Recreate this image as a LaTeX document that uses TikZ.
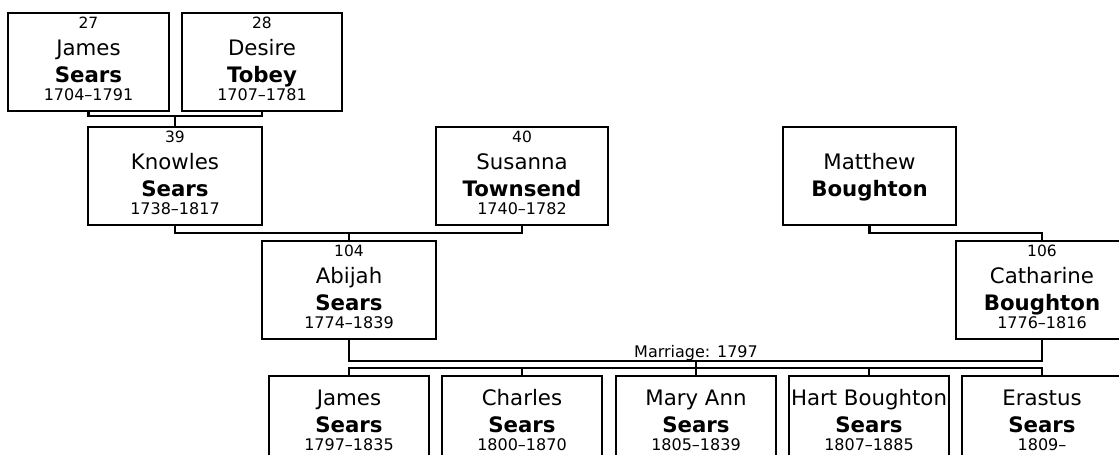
\documentclass[tikz,border=0pt]{standalone}
\usepackage{fontspec}
\setmainfont{DejaVu Sans}
\tikzset{
  pbox/.style={draw, line width=2.3pt, minimum height=98pt, inner sep=0pt},
  conn/.style={line width=2.3pt},
  numtxt/.style={anchor=base, inner sep=0pt, font=\fontsize{15.5}{17}\selectfont},
  firsttxt/.style={anchor=base, inner sep=0pt, font=\fontsize{21.3}{24}\selectfont},
  lasttxt/.style={anchor=base, inner sep=0pt, font=\fontsize{21.3}{24}\selectfont\bfseries},
  datetxt/.style={anchor=base, inner sep=0pt, font=\fontsize{16}{18}\selectfont},
}
% #1 name, #2 cx, #3 top, #4 width, #5 number, #6 first, #7 last, #8 dates
\newcommand\person[8]{%
  \node[pbox, minimum width=#4] (#1) at (#2,#3+49) {};
  \node[numtxt] (#1n) at (#2,#3+15.5) {#5};
  \node[firsttxt] (#1f) at (#2,#3+42) {#6};
  \node[lasttxt] (#1l) at (#2,#3+69) {#7};
  \node[datetxt] (#1d) at (#2,#3+87.5) {#8};
}
\newcommand\kid[6]{%
  \node[pbox, minimum width=#4] (#1) at (#2,#3+49) {};
  \node[firsttxt] (#1f) at (#2,#3+29) {#5};
  \node[lasttxt] (#1l) at (#2,#3+56) {Sears};
  \node[datetxt] (#1d) at (#2,#3+74.5) {#6};
}
\begin{document}
\begin{tikzpicture}[x=1pt, y=-1pt]
\useasboundingbox (0,0) rectangle (1119,455);
\clip (0,0) rectangle (1119,455);
% generation 1
\person{p27}{88.5}{13}{161pt}{27}{James}{Sears}{1704–1791}
\person{p28}{262}{13}{160pt}{28}{Desire}{Tobey}{1707–1781}
% generation 2
\person{p39}{175}{127}{174pt}{39}{Knowles}{Sears}{1738–1817}
\person{p40}{522}{127}{172pt}{40}{Susanna}{Townsend}{1740–1782}
\person{matthew}{869.5}{127}{173pt}{}{Matthew}{Boughton}{}
% generation 3
\person{p104}{349}{241}{174pt}{104}{Abijah}{Sears}{1774–1839}
\person{p106}{1042}{241}{172pt}{106}{Catharine}{Boughton}{1776–1816}
% children
\kid{k1}{349}{376}{160pt}{James}{1797–1835}
\kid{k2}{522}{376}{160pt}{Charles}{1800–1870}
\kid{k3}{696}{376}{160pt}{Mary Ann}{1805–1839}
\kid{k4}{869}{376}{160pt}{Hart Boughton}{1807–1885}
\kid{k5}{1042}{376}{160pt}{Erastus}{1809–}
% connectors
\coordinate (c1) at (175,116);
\draw[conn] (p27.south) |- (c1) -| (p28.south);
\draw[conn] (c1) -- (p39.north);
\coordinate (c2) at (349,233);
\draw[conn] (p39.south) |- (c2) -| (p40.south);
\draw[conn] (c2) -- (p104.north);
\coordinate (c3) at (955.5,233);
\draw[conn] (matthew.south) |- (c3) -| (p106.north);
\coordinate (c4) at (696,361);
\draw[conn] (p104.south) |- (c4) -| (p106.south);
\node[datetxt] (mlabel) at (696,357) {Marriage: 1797};
\coordinate (c5) at (696,368);
\draw[conn] (c4) -- (c5);
\draw[conn] (k1.north) |- (c5) -| (k5.north);
\draw[conn] (k2.north) |- (c5);
\draw[conn] (k3.north) -- (c5);
\draw[conn] (k4.north) |- (c5);
\end{tikzpicture}
\end{document}
